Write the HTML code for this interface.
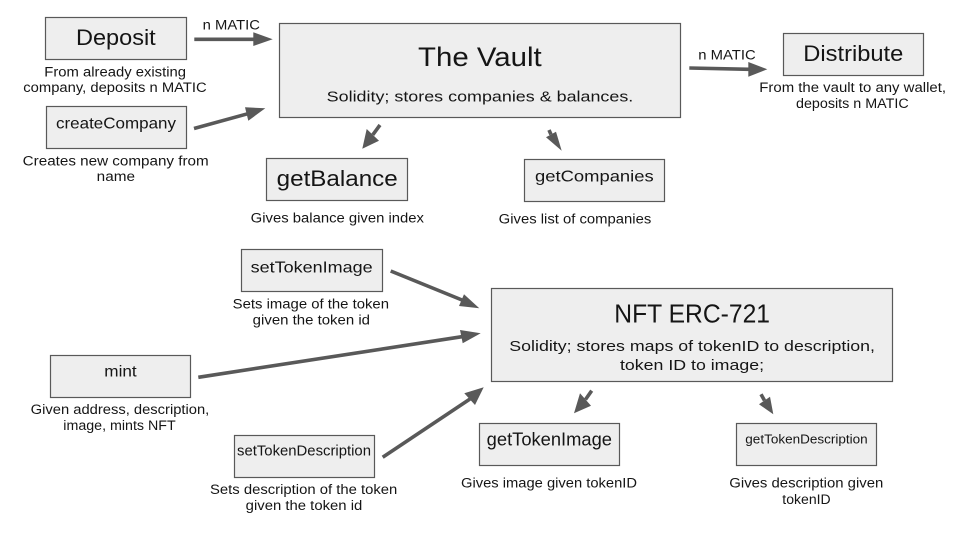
<!DOCTYPE html>
<html lang="en">
<head>
<meta charset="utf-8">
<title>The Vault and NFT ERC-721 diagram</title>
<style>
html,body{margin:0;padding:0;background:#fff}
svg{display:block}
text{font-family:"Liberation Sans",sans-serif;fill:#151515}
rect{fill:#eeeeee;stroke:#595959;stroke-width:1.2}
line{stroke:#595959;stroke-width:3.6}
polygon{fill:#595959}
</style>
</head>
<body>
<svg xmlns="http://www.w3.org/2000/svg" width="960" height="540" viewBox="0 0 960 540">

<!-- boxes -->
<rect x="45.5" y="17.5" width="141" height="42"/>
<rect x="46.5" y="106.5" width="140" height="42"/>
<rect x="279.5" y="23.5" width="401" height="94"/>
<rect x="783.5" y="33.5" width="140" height="42"/>
<rect x="266.5" y="158.5" width="141" height="42"/>
<rect x="524.5" y="159.5" width="140" height="42"/>
<rect x="241.5" y="249.5" width="141" height="42"/>
<rect x="50.5" y="355.5" width="140" height="42"/>
<rect x="234.5" y="435.5" width="140" height="42"/>
<rect x="491.5" y="288.5" width="401" height="93"/>
<rect x="479.5" y="423.5" width="140" height="42"/>
<rect x="736.5" y="423.5" width="140" height="42"/>

<!-- arrows -->
<line x1="194.3" y1="39.3" x2="254" y2="39.3"/>
<polygon points="272.7,39.3 253.3,32.3 253.3,46"/>
<line x1="194" y1="128.5" x2="247.5" y2="113.8"/>
<polygon points="265.3,108.3 245,107.3 248.3,120.7"/>
<line x1="380" y1="125" x2="372.8" y2="134.8"/>
<polygon points="362.3,148.7 366.7,129 379,140.7"/>
<line x1="549" y1="130" x2="551" y2="134.5"/>
<polygon points="561.7,150.7 546,137.3 556,131.7"/>
<line x1="689.3" y1="68" x2="749" y2="69.3"/>
<polygon points="767.3,69.3 748.3,62 748.3,76.7"/>
<line x1="390.7" y1="271" x2="462" y2="300"/>
<polygon points="479.3,308.3 464,294.3 459,306"/>
<line x1="198.3" y1="377.3" x2="462" y2="336.7"/>
<polygon points="480.7,333.3 460,330 462.7,343.3"/>
<line x1="382.7" y1="457.3" x2="470" y2="399"/>
<polygon points="483.7,387.3 464.3,393.3 475,405"/>
<line x1="591.7" y1="390.7" x2="585.5" y2="399.5"/>
<polygon points="574,413.3 580,393.3 591,405.7"/>
<line x1="761" y1="394.3" x2="764.5" y2="400.5"/>
<polygon points="773.3,414.3 759,404.3 770,396.7"/>

<!-- top section -->
<text x="76" y="45" font-size="22" textLength="79.7" lengthAdjust="spacingAndGlyphs">Deposit</text>
<text x="202.7" y="29.3" font-size="14" textLength="57.3" lengthAdjust="spacingAndGlyphs">n MATIC</text>
<text x="44.3" y="76.7" font-size="13.5" textLength="141.7" lengthAdjust="spacingAndGlyphs">From already existing</text>
<text x="23.3" y="92" font-size="13.5" textLength="183.4" lengthAdjust="spacingAndGlyphs">company, deposits n MATIC</text>
<text x="56" y="128.3" font-size="16" textLength="120" lengthAdjust="spacingAndGlyphs">createCompany</text>
<text x="22.7" y="165.3" font-size="13.5" textLength="186" lengthAdjust="spacingAndGlyphs">Creates new company from</text>
<text x="96.7" y="181" font-size="13.5" textLength="38.3" lengthAdjust="spacingAndGlyphs">name</text>
<text x="418" y="66" font-size="27" textLength="123.7" lengthAdjust="spacingAndGlyphs">The Vault</text>
<text x="326.7" y="101.7" font-size="15" textLength="306.6" lengthAdjust="spacingAndGlyphs">Solidity; stores companies &amp; balances.</text>
<text x="276.7" y="186" font-size="22" textLength="121" lengthAdjust="spacingAndGlyphs">getBalance</text>
<text x="250.7" y="222.3" font-size="13.5" textLength="173.3" lengthAdjust="spacingAndGlyphs">Gives balance given index</text>
<text x="535" y="181.7" font-size="16" textLength="118.7" lengthAdjust="spacingAndGlyphs">getCompanies</text>
<text x="498.7" y="223.3" font-size="13.5" textLength="152.6" lengthAdjust="spacingAndGlyphs">Gives list of companies</text>
<text x="698.3" y="59.3" font-size="14" textLength="57.4" lengthAdjust="spacingAndGlyphs">n MATIC</text>
<text x="803.3" y="61" font-size="22" textLength="100" lengthAdjust="spacingAndGlyphs">Distribute</text>
<text x="759.3" y="92" font-size="13.5" textLength="186.7" lengthAdjust="spacingAndGlyphs">From the vault to any wallet,</text>
<text x="796" y="108" font-size="13.5" textLength="112.7" lengthAdjust="spacingAndGlyphs">deposits n MATIC</text>

<!-- bottom section -->
<text x="250.7" y="272.7" font-size="16" textLength="122" lengthAdjust="spacingAndGlyphs">setTokenImage</text>
<text x="232.7" y="308.7" font-size="13.5" textLength="156.3" lengthAdjust="spacingAndGlyphs">Sets image of the token</text>
<text x="252.7" y="324.7" font-size="13.5" textLength="117.3" lengthAdjust="spacingAndGlyphs">given the token id</text>
<text x="104.3" y="376.7" font-size="16" textLength="32.4" lengthAdjust="spacingAndGlyphs">mint</text>
<text x="30.7" y="414" font-size="13.5" textLength="178.6" lengthAdjust="spacingAndGlyphs">Given address, description,</text>
<text x="63.3" y="430" font-size="13.5" textLength="112.4" lengthAdjust="spacingAndGlyphs">image, mints NFT</text>
<text x="237" y="455.7" font-size="14.5" textLength="134" lengthAdjust="spacingAndGlyphs">setTokenDescription</text>
<text x="210" y="494" font-size="13.5" textLength="187.3" lengthAdjust="spacingAndGlyphs">Sets description of the token</text>
<text x="245.7" y="510" font-size="13.5" textLength="116.6" lengthAdjust="spacingAndGlyphs">given the token id</text>
<text x="614.3" y="322.3" font-size="26" textLength="155.7" lengthAdjust="spacingAndGlyphs">NFT ERC-721</text>
<text x="509.3" y="351" font-size="15" textLength="365.7" lengthAdjust="spacingAndGlyphs">Solidity; stores maps of tokenID to description,</text>
<text x="620" y="370" font-size="15" textLength="144" lengthAdjust="spacingAndGlyphs">token ID to image;</text>
<text x="486.7" y="445.7" font-size="18" textLength="125.3" lengthAdjust="spacingAndGlyphs">getTokenImage</text>
<text x="461" y="487.3" font-size="13.5" textLength="176" lengthAdjust="spacingAndGlyphs">Gives image given tokenID</text>
<text x="745.3" y="443.3" font-size="12.5" textLength="122.4" lengthAdjust="spacingAndGlyphs">getTokenDescription</text>
<text x="729.3" y="487.3" font-size="13.5" textLength="154" lengthAdjust="spacingAndGlyphs">Gives description given</text>
<text x="782.3" y="504" font-size="13.5" textLength="48.4" lengthAdjust="spacingAndGlyphs">tokenID</text>
</svg>
</body>
</html>
